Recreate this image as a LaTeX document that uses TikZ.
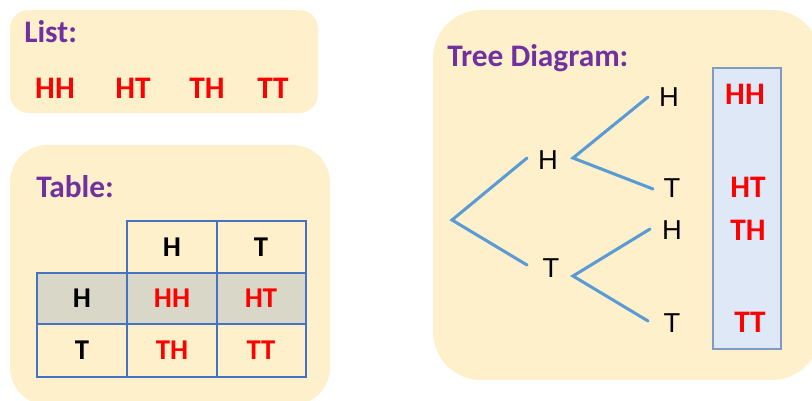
\documentclass[tikz,border=0pt]{standalone}
\usepackage{fontspec}
\setmainfont{Carlito}
\newfontfamily\arialf{Liberation Sans}
\definecolor{panel}{HTML}{FFF0CC}
\definecolor{ttl}{HTML}{7030A0}
\definecolor{res}{HTML}{FF0000}
\definecolor{branch}{HTML}{5B9BD5}
\definecolor{grid}{HTML}{4472C4}
\definecolor{rowgray}{HTML}{D9D7C7}
\definecolor{resbox}{HTML}{DEE8F6}
\definecolor{resline}{HTML}{7F9CC0}
\tikzset{
  panelbox/.style={fill=panel, draw=none},
  ttltext/.style={font=\fontsize{23.5}{28}\selectfont\bfseries, text=ttl, anchor=base west, inner sep=0},
  outc/.style={font=\fontsize{23.5}{28}\selectfont\bfseries, text=res, inner sep=0},
  celltext/.style={font=\fontsize{21.5}{25}\selectfont\bfseries, inner sep=0},
  leaf/.style={font=\arialf\fontsize{20.5}{24}\selectfont, inner sep=0},
  br/.style={draw=branch, line width=2.3pt, line cap=round}
}
\begin{document}
\begin{tikzpicture}[x=0.75pt,y=-0.75pt]
\useasboundingbox (0,0) rectangle (812,400);
% panels
\path[panelbox, rounded corners=14pt] (10,10) rectangle (318,113);
\path[panelbox, rounded corners=28pt] (10,145) rectangle (330,405);
\path[panelbox, rounded corners=36pt] (433,10) rectangle (820,380);
% list
\node[ttltext] (listt) at (24,42) {List:};
\node[outc] (l1) at (55,88) {HH};
\node[outc] (l2) at (133,88) {HT};
\node[outc] (l3) at (207,88) {TH};
\node[outc] (l4) at (273,88) {TT};
% table
\node[ttltext] (tablet) at (36,197) {Table:};
\fill[rowgray] (37,273) rectangle (306,324);
\draw[grid, line width=1pt] (127,221) rectangle (306,273);
\draw[grid, line width=1pt] (217,221) -- (217,377);
\draw[grid, line width=1pt] (127,273) -- (127,377);
\draw[grid, line width=1pt] (37,273) rectangle (306,377);
\draw[grid, line width=1pt] (37,324) -- (306,324);
\draw[grid, line width=2pt] (37,273) -- (306,273);
\node[celltext] (ch1) at (172,247) {H};
\node[celltext] (ch2) at (261,247) {T};
\node[celltext] (rh1) at (82,298.5) {H};
\node[celltext] (rh2) at (82,350.5) {T};
\node[celltext, text=res] (c11) at (172,298.5) {HH};
\node[celltext, text=res] (c12) at (261,298.5) {HT};
\node[celltext, text=res] (c21) at (172,350.5) {TH};
\node[celltext, text=res] (c22) at (261,350.5) {TT};
% tree
\node[ttltext] (treet) at (447,66) {Tree Diagram:};
\draw[fill=resbox, draw=resline, line width=1pt] (713,68) rectangle (781,349);
\node[leaf] (n1) at (548,160) {H};
\node[leaf] (n2) at (551,268) {T};
\node[leaf] (n11) at (669,97) {H};
\node[leaf] (n12) at (672,188) {T};
\node[leaf] (n21) at (672,230) {H};
\node[leaf] (n22) at (672,323) {T};
\node[outc] (o1) at (745,94) {HH};
\node[outc] (o2) at (748,187) {HT};
\node[outc] (o3) at (748,230) {TH};
\node[outc] (o4) at (750,322) {TT};
\coordinate (root) at (452,220);
\coordinate (e1) at (527,158);
\coordinate (e2) at (527,265);
\coordinate (s1) at (573,158);
\coordinate (s2) at (573,276);
\coordinate (e11) at (648,97);
\coordinate (e12) at (653,189);
\coordinate (e21) at (650,229);
\coordinate (e22) at (648,321);
\draw[br] (e1) -- (root) -- (e2);
\draw[br] (e11) -- (s1) -- (e12);
\draw[br] (e21) -- (s2) -- (e22);
\end{tikzpicture}
\end{document}
